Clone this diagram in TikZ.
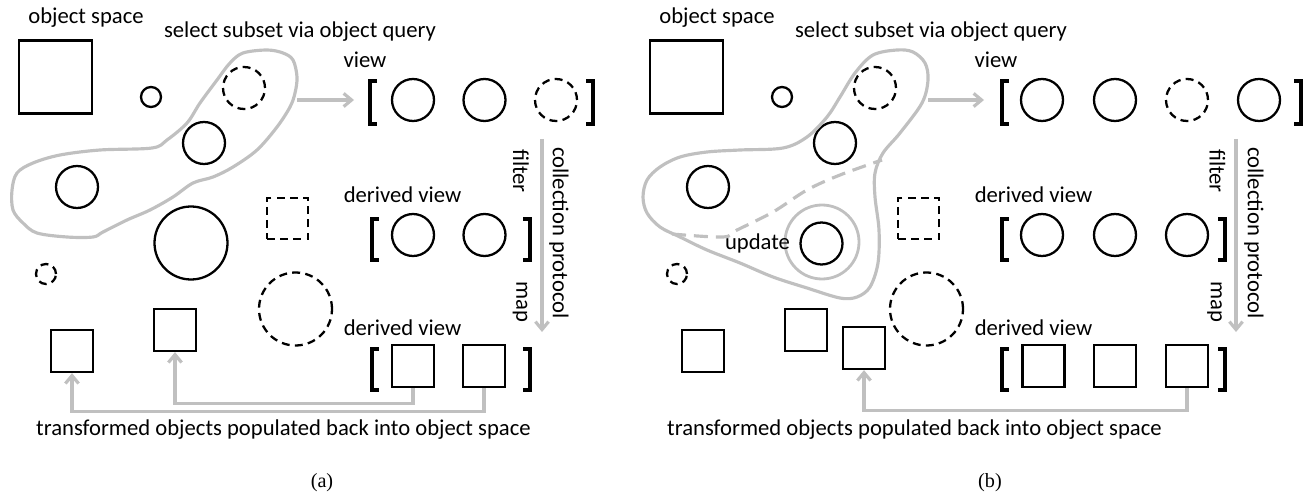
\documentclass[tikz,border=0pt]{standalone}
\usepackage{fontspec}
\setmainfont{Carlito}
\newfontfamily\capfont{Liberation Serif}
\usetikzlibrary{arrows.meta}

\definecolor{selgray}{RGB}{192,192,192}

\tikzset{
  obj/.style={draw, line width=1.3pt, inner sep=0pt, minimum size=#1*0.02cm},
  ball/.style={obj=#1, circle},
  box/.style={obj=#1, rectangle},
  ghost/.style={dash pattern=on 4.5pt off 3pt},
  hull/.style={draw=selgray, line width=1.8pt},
  flow/.style={selgray, line width=1.8pt, -{Straight Barb[length=4.5pt,width=7.5pt]}},
  brk/.style={line width=2.3pt, line join=miter},
  lbl/.style={font=\fontsize{12.9}{15}\selectfont, inner sep=0pt},
}

\begin{document}
\begin{tikzpicture}[x=0.02cm, y=-0.02cm]
  \useasboundingbox (0,0) rectangle (1307,493);

  % object space, same in both panels
  \foreach \p/\dx in {a/0,b/631} {
    \node[box=73] (\p-sq) at (55.5+\dx,77) {};
    \node[ball=20] (\p-dot) at (151+\dx,97) {};
    \node[ball=42, ghost] (\p-s1) at (244+\dx,88) {};
    \node[ball=42] (\p-s2) at (204+\dx,143) {};
    \node[ball=42] (\p-s3) at (77+\dx,187) {};
    \node[box=41, ghost] (\p-dsq) at (287.5+\dx,218.5) {};
    \node[ball=20, ghost] (\p-ddot) at (46+\dx,274) {};
    \node[ball=73, ghost] (\p-dbig) at (295.5+\dx,309) {};
    \node[box=42] (\p-t1) at (72+\dx,351) {};
    \node[box=42] (\p-t2) at (175+\dx,330) {};
    \node[lbl, anchor=base] (\p-space) at (86+\dx,24) {object space};
    \node[lbl, anchor=base] (\p-query) at (300+\dx,38) {select subset via object query};
    \node[lbl, anchor=base] (\p-view) at (365+\dx,68) {view};
    \node[lbl, anchor=base] (\p-der1) at (402.5+\dx,202) {derived view};
    \node[lbl, anchor=base] (\p-der2) at (402.5+\dx,335) {derived view};
    \node[lbl, anchor=base] (\p-back) at (283.5+\dx,435) {transformed objects populated back into object space};
  }

  % brackets
  \foreach \xl/\xr/\yt/\yb in {368/595/79/126, 370/532/217/262, 370/532/347/392,
                                1000/1303/79/126, 1000/1227/217/262, 1000/1227/347/392} {
    \draw[brk] (\xl+9,\yt+2) -| (\xl+2,\yb-2) -- (\xl+9,\yb-2);
    \draw[brk] (\xr-9,\yt+2) -| (\xr-2,\yb-2) -- (\xr-9,\yb-2);
  }

  % (a)
  \node[ball=73] (a-big) at (191,243) {};
  \draw[hull] plot[smooth cycle, tension=0.55] coordinates {(267,50) (243,53) (230,63) (217,80)
    (200,103) (187,123) (167,140) (152,148) (100,150) (60,155) (33,163) (17,173) (12,190)
    (13,210) (23,223) (37,233) (67,237) (93,237) (103,232) (127,220) (150,210) (173,197)
    (193,183) (213,177) (233,167) (257,150) (277,127) (290,107) (295,93) (297,77) (293,60) (283,53)};

  \node[ball=42] (a-v1) at (413,100) {};
  \node[ball=42] (a-v2) at (484.5,100) {};
  \node[ball=42, ghost] (a-v3) at (556,100) {};
  \node[ball=42] (a-f1) at (413,235) {};
  \node[ball=42] (a-f2) at (484.5,235) {};
  \node[box=42] (a-d1) at (413,366) {};
  \node[box=42] (a-d2) at (484,366) {};

  \coordinate (a-out) at (297,100);
  \coordinate (a-in) at (354,100);
  \draw[flow] (a-out) -- (a-in);
  \coordinate (a-top) at (542,139);
  \coordinate (a-bot) at (542,332);
  \draw[flow] (a-top) -- (a-bot);
  \node[lbl, rotate=-90] (a-filter) at (521,171) {filter};
  \node[lbl, rotate=-90] (a-proto) at (559,233) {collection protocol};
  \node[lbl, rotate=-90] (a-map) at (520,302) {map};

  \draw[flow] (a-d1.south) -- ++(0,15) -| (a-t2.south);
  \draw[flow] (a-d2.south) -- ++(0,23) -| (a-t1.south);

  \node[font=\capfont\fontsize{11.5}{14}\selectfont, anchor=base, inner sep=0pt] (a-cap) at (322,487) {(a)};

  % (b)
  \node[draw=selgray, circle, line width=1.6pt, minimum size=74*0.02cm] (b-ring) at (822,242) {};
  \node[ball=42] (b-upd) at (821.5,243.5) {};
  \node[lbl, anchor=base] (b-updtxt) at (757.5,249) {update};
  \node[box=42] (b-t3) at (864,348) {};
  \draw[hull] plot[smooth cycle, tension=0.55] coordinates {(897,50) (873,55) (855,73) (840,97)
    (827,117) (807,137) (783,148) (740,150) (707,152) (680,157) (660,167) (647,180) (643,197)
    (647,213) (660,227) (680,237) (707,250) (740,263) (773,277) (807,288) (840,298) (857,297)
    (870,287) (878,263) (879,230) (875,197) (875,173) (883,153) (900,133) (922,103) (928,80)
    (925,63) (913,52)};
  \draw[hull, dash pattern=on 8pt off 4.5pt] plot[smooth, tension=0.55] coordinates {(672,234)
    (723,237) (737,230) (773,212) (807,190) (840,175) (882,160)};

  \node[ball=42] (b-v1) at (1042,100) {};
  \node[ball=42] (b-v2) at (1115,100) {};
  \node[ball=42, ghost] (b-v3) at (1187,100) {};
  \node[ball=42] (b-v4) at (1259,100) {};
  \node[ball=42] (b-f1) at (1042,235) {};
  \node[ball=42] (b-f2) at (1115,235) {};
  \node[ball=42] (b-f3) at (1187,235) {};
  \node[box=42] (b-d1) at (1043.5,366) {};
  \node[box=42] (b-d2) at (1115,366) {};
  \node[box=42] (b-d3) at (1187,366) {};

  \coordinate (b-out) at (928,100);
  \coordinate (b-in) at (984,100);
  \draw[flow] (b-out) -- (b-in);
  \coordinate (b-top) at (1236,139);
  \coordinate (b-bot) at (1236,332);
  \draw[flow] (b-top) -- (b-bot);
  \node[lbl, rotate=-90] (b-filter) at (1217.5,171) {filter};
  \node[lbl, rotate=-90] (b-proto) at (1254,233) {collection protocol};
  \node[lbl, rotate=-90] (b-map) at (1214.5,302) {map};

  \draw[flow] (b-d3.south) -- ++(0,22) -| (b-t3.south);

  \node[font=\capfont\fontsize{11.5}{14}\selectfont, anchor=base, inner sep=0pt] (b-cap) at (990,487) {(b)};
\end{tikzpicture}
\end{document}
